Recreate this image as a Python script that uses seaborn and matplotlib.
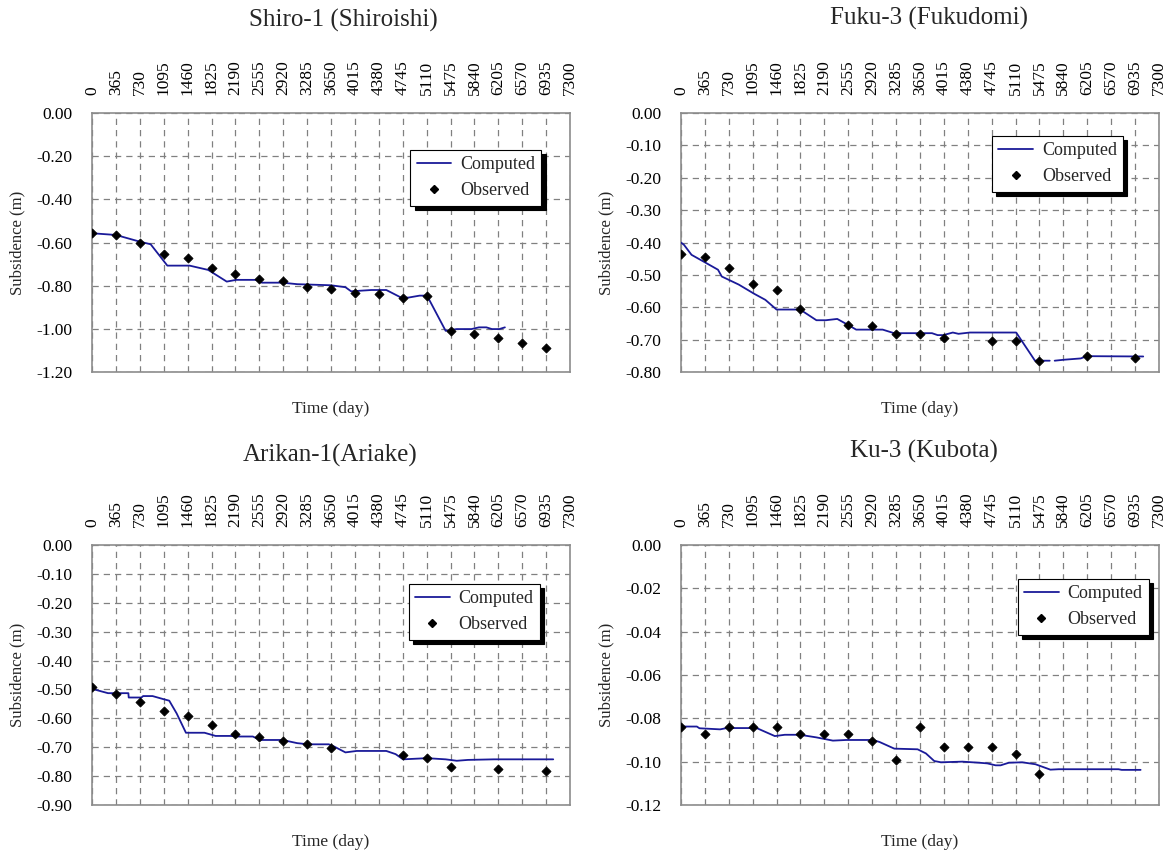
import numpy as np
import pandas as pd
import matplotlib
matplotlib.use('Agg')
import matplotlib.pyplot as plt
import seaborn as sns
from matplotlib.lines import Line2D

# ---- data ----
titles = ['Shiro-1 (Shiroishi)', 'Fuku-3 (Fukudomi)', 'Arikan-1(Ariake)', 'Ku-3 (Kubota)']

# Shiro-1
shiro_obs_day = [0, 365, 730, 1095, 1460, 1825, 2190, 2555, 2920, 3285, 3650, 4015,
                 4380, 4745, 5110, 5475, 5840, 6205, 6570, 6935]
shiro_obs = [-0.557, -0.565, -0.600, -0.655, -0.673, -0.716, -0.745, -0.769, -0.778, -0.804,
             -0.816, -0.832, -0.840, -0.858, -0.849, -1.009, -1.024, -1.043, -1.066, -1.091]
shiro_comp_day = [0, 365, 730, 895, 1150, 1490, 1775, 2057, 2200, 2510, 2595, 2907, 3134,
                  3645, 3870, 3956, 4267, 4494, 4720, 4833, 5003, 5116, 5400, 5570, 5795,
                  5909, 6022, 6107, 6220, 6305]
shiro_comp = [-0.557, -0.565, -0.596, -0.608, -0.707, -0.707, -0.727, -0.781, -0.773, -0.773,
              -0.786, -0.786, -0.793, -0.798, -0.807, -0.826, -0.820, -0.820, -0.855, -0.855,
              -0.846, -0.846, -1.009, -1.001, -1.001, -0.993, -0.993, -1.001, -1.001, -0.993]

# Fuku-3 (computed line has a short gap near day 5650)
fuku_obs_day = [0, 365, 730, 1095, 1460, 1825, 2555, 2920, 3285, 3650, 4015, 4745, 5110,
                5475, 6205, 6935]
fuku_obs = [-0.436, -0.444, -0.480, -0.527, -0.548, -0.606, -0.654, -0.659, -0.682, -0.682,
            -0.695, -0.705, -0.705, -0.766, -0.752, -0.756]
fuku_comp_day = [0, 46, 162, 365, 566, 624, 884, 1116, 1289, 1460, 1820, 2069, 2214, 2387,
                 2503, 2676, 3081, 3255, 3834, 3920, 4007, 4152, 4239, 4412, 5120, 5407, 5632,
                 5708, 5851, 6106, 6198, 7060]
fuku_comp = [-0.400, -0.407, -0.438, -0.461, -0.484, -0.505, -0.530, -0.558, -0.577, -0.607,
             -0.607, -0.640, -0.640, -0.636, -0.649, -0.669, -0.669, -0.680, -0.680, -0.686,
             -0.686, -0.678, -0.682, -0.678, -0.678, -0.765, -0.765,
             -0.765, -0.762, -0.758, -0.751, -0.752]
fuku_seg = [0] * 27 + [1] * 5

# Arikan-1
arik_obs_day = [0, 365, 730, 1095, 1460, 1825, 2190, 2555, 2920, 3285, 3650, 4745, 5110,
                5475, 6205, 6935]
arik_obs = [-0.490, -0.517, -0.542, -0.573, -0.592, -0.623, -0.654, -0.663, -0.677, -0.690,
            -0.704, -0.727, -0.736, -0.767, -0.777, -0.781]
arik_comp_day = [0, 244, 555, 560, 754, 780, 924, 1095, 1179, 1292, 1434, 1717, 1887, 2114,
                 2200, 2455, 2568, 2908, 3134, 3303, 3615, 3700, 3870, 4041, 4494, 4636, 4749,
                 5116, 5400, 5570, 5740, 6136, 7043]
arik_comp = [-0.498, -0.513, -0.513, -0.528, -0.528, -0.523, -0.523, -0.534, -0.539, -0.583,
             -0.650, -0.650, -0.661, -0.661, -0.663, -0.663, -0.675, -0.675, -0.686, -0.690,
             -0.690, -0.698, -0.718, -0.713, -0.713, -0.724, -0.742, -0.738, -0.742, -0.747,
             -0.744, -0.742, -0.742]

# Ku-3
ku_obs_day = [0, 365, 730, 1095, 1460, 1825, 2190, 2555, 2920, 3285, 3650, 4015, 4380, 4745,
              5110, 5475]
ku_obs = [-0.0838, -0.0872, -0.0838, -0.0838, -0.0838, -0.0874, -0.0874, -0.0874, -0.0906,
          -0.0994, -0.0838, -0.0932, -0.0932, -0.0932, -0.0963, -0.1057]
ku_comp_day = [0, 243, 283, 598, 700, 1156, 1434, 1586, 1814, 2068, 2321, 2524, 2930, 3031,
               3259, 3614, 3741, 3868, 3970, 4298, 4552, 4679, 4806, 4882, 5008, 5211, 5414,
               5515, 5642, 5769, 6682, 6732, 7020]
ku_comp = [-0.0838, -0.0838, -0.0846, -0.0851, -0.0845, -0.0845, -0.0882, -0.0876, -0.0876,
           -0.0888, -0.0903, -0.0900, -0.0900, -0.0909, -0.0940, -0.0943, -0.0962, -0.0997,
           -0.1003, -0.1000, -0.1005, -0.1008, -0.1017, -0.1017, -0.1005, -0.1003, -0.1012,
           -0.1023, -0.1037, -0.1035, -0.1035, -0.1038, -0.1038]

y_limits = [(-1.2, 0.2), (-0.8, 0.1), (-0.9, 0.1), (-0.12, 0.02)]   # (bottom, step)
day_ticks = list(range(0, 7301, 365))

panels = [
    (shiro_comp_day, shiro_comp, [0] * len(shiro_comp), shiro_obs_day, shiro_obs),
    (fuku_comp_day, fuku_comp, fuku_seg, fuku_obs_day, fuku_obs),
    (arik_comp_day, arik_comp, [0] * len(arik_comp), arik_obs_day, arik_obs),
    (ku_comp_day, ku_comp, [0] * len(ku_comp), ku_obs_day, ku_obs),
]

# ---- layout ----
boxes = [[0.0786, 0.5659, 0.4082, 0.3022],
         [0.5815, 0.5659, 0.4082, 0.3022],
         [0.0786, 0.0607, 0.4082, 0.3034],
         [0.5815, 0.0607, 0.4082, 0.3034]]
title_pos = [(0.525, 1.359), (0.518, 1.367), (0.498, 1.346), (0.509, 1.358)]
legend_anchor = [(0.94, 0.857), (0.925, 0.911), (0.937, 0.85), (0.979, 0.869)]

sns.set_theme(style='white')
plt.rcParams['font.family'] = ['Liberation Serif', 'DejaVu Serif']
plt.rcParams['mathtext.fontset'] = 'stix'

line_col = '#1a1a99'
grid_col = '#808080'

fig = plt.figure(figsize=(11.71, 8.57), dpi=100)
fig.patch.set_facecolor('white')

for i, (cd, cv, seg, od, ov) in enumerate(panels):
    ax = fig.add_axes(boxes[i])
    comp = pd.DataFrame({'day': cd, 'value': cv, 'seg': seg})
    obs = pd.DataFrame({'day': od, 'value': ov})

    sns.lineplot(data=comp, x='day', y='value', units='seg', estimator=None, sort=False,
                 color=line_col, lw=1.3, ax=ax, zorder=3)
    sns.scatterplot(data=obs, x='day', y='value', marker='D', color='black', s=22,
                    edgecolor='black', linewidth=0.5, ax=ax, zorder=4)

    bottom, step = y_limits[i]
    ax.set_xlim(0, 7300)
    ax.set_ylim(bottom, 0)
    n = int(round(-bottom / step))
    ax.set_yticks([-k * step for k in range(n + 1)])
    ax.set_yticklabels(['%.2f' % (-k * step) if k > 0 else '0.00' for k in range(n + 1)])
    ax.set_xticks(day_ticks)
    ax.xaxis.tick_top()
    ax.set_xticklabels([str(d) for d in day_ticks], rotation=90)
    ax.tick_params(axis='x', length=0, pad=13, labelsize=12.5, colors='black')
    ax.tick_params(axis='y', length=0, pad=14, labelsize=12.5, colors='black')

    ax.grid(True, color=grid_col, linestyle=(0, (5, 4)), linewidth=0.9)
    for sp in ax.spines.values():
        sp.set_visible(True)
        sp.set_color('#8c8c8c')
        sp.set_linewidth(1.2)

    ax.set_xlabel('Time (day)', fontsize=12.5)
    ax.xaxis.set_label_position('bottom')
    ax.xaxis.set_label_coords(0.5, -0.112)
    ax.set_ylabel('Subsidence (m)', fontsize=12)
    ax.yaxis.set_label_coords(-0.14, 0.5)

    ax.text(title_pos[i][0], title_pos[i][1], titles[i], transform=ax.transAxes,
            ha='center', va='center', fontsize=18)

    handles = [Line2D([], [], color=line_col, lw=1.3),
               Line2D([], [], marker='D', color='black', ls='none', ms=4)]
    leg = ax.legend(handles, ['Computed', 'Observed'], loc='upper right',
                    bbox_to_anchor=legend_anchor[i], borderaxespad=0, fontsize=13,
                    frameon=True, fancybox=False, framealpha=1, edgecolor='black',
                    handlelength=1.9, handletextpad=0.5, borderpad=0.35, labelspacing=0.5,
                    shadow={'ox': 3, 'oy': -3, 'color': 'black', 'alpha': 1})
    leg.get_frame().set_linewidth(0.8)
    leg.set_zorder(10)

fig.savefig('out.png', dpi=100, facecolor='white')
